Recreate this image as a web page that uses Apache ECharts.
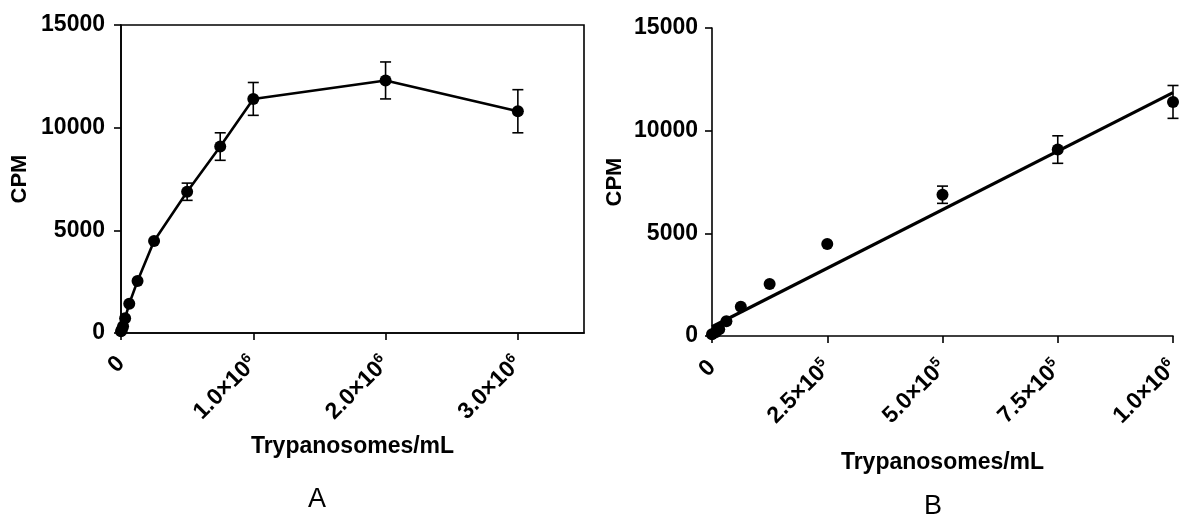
<!DOCTYPE html>
<html>
<head>
<meta charset="utf-8">
<script src="https://cdn.jsdelivr.net/npm/echarts@6/dist/echarts.min.js"></script>
<style>
html,body{margin:0;padding:0;background:#fff;}
#c{width:1200px;height:527px;}
</style>
</head>
<body>
<div id="c"></div>
<script>
// ---- data ----
const conc = [0, 7812.5, 15625, 31250, 62500, 125000, 250000, 500000, 750000, 1000000, 2000000, 3000000];
const cpm  = [80, 180, 330, 720, 1430, 2530, 4480, 6880, 9080, 11400, 12300, 10800];
const sem  = [0, 0, 0, 0, 0, 0, 0, 420, 670, 800, 900, 1050];
const fitX = [0, 1000000];
const fitY = [450, 11850];
const yTicks = [0, 5000, 10000, 15000];
const xTicksA = [0, 1000000, 2000000, 3000000];
const xLabelsA = ['0', '1.0×10|6', '2.0×10|6', '3.0×10|6'];
const xTicksB = [0, 250000, 500000, 750000, 1000000];
const xLabelsB = ['0', '2.5×10|5', '5.0×10|5', '7.5×10|5', '1.0×10|6'];
const xName = 'Trypanosomes/mL';
const yName = 'CPM';
const panelNames = ['A', 'B'];

const FONT = '"Liberation Sans", Arial, sans-serif';
const ptsA = conc.map((x, i) => [x, cpm[i]]);
const errDataA = conc.map((x, i) => [x, cpm[i], sem[i]]);
const limB = 1000000;
const ptsB = ptsA.filter(p => p[0] <= limB);
const errDataB = errDataA.filter(p => p[0] <= limB);
const fitData = fitX.map((x, i) => [x, fitY[i]]);

function fmtLabel(list, ticks) {
  return function (v) {
    const idx = ticks.indexOf(v);
    const s = idx >= 0 ? list[idx] : '';
    if (s.indexOf('|') >= 0) {
      const parts = s.split('|');
      return '{b|' + parts[0] + '}{s|' + parts[1] + '}';
    }
    return '{b|' + s + '}';
  };
}
const rich = {
  b: {fontFamily: FONT, fontWeight: 'bold', fontSize: 23, color: '#000'},
  s: {fontFamily: FONT, fontWeight: 'bold', fontSize: 14, color: '#000', verticalAlign: 'top', padding: [0, 0, 12, 0]}
};

function errRender(params, api) {
  const x = api.value(0), y = api.value(1), e = api.value(2);
  if (!e) return null;
  const t = api.coord([x, y + e]);
  const b = api.coord([x, y - e]);
  const w = 5.5;
  const st = {stroke: '#000', lineWidth: 1.6};
  return {
    type: 'group',
    children: [
      {type: 'line', shape: {x1: t[0], y1: t[1], x2: b[0], y2: b[1]}, style: st},
      {type: 'line', shape: {x1: t[0] - w, y1: t[1], x2: t[0] + w, y2: t[1]}, style: st},
      {type: 'line', shape: {x1: b[0] - w, y1: b[1], x2: b[0] + w, y2: b[1]}, style: st}
    ]
  };
}

const axisLine = {show: true, onZero: false, lineStyle: {color: '#000', width: 1.6}};
const axisTick = {show: true, inside: false, length: 7, lineStyle: {color: '#000', width: 1.6}};

function yAxis(idx, margin, gap) {
  return {
    type: 'value', gridIndex: idx, min: 0, max: 15000, interval: 5000,
    axisLine: axisLine, axisTick: axisTick, splitLine: {show: false},
    axisLabel: {color: '#000', fontFamily: FONT, fontWeight: 'bold', fontSize: 23, margin: margin,
      customValues: yTicks, formatter: v => String(v)},
    name: yName, nameLocation: 'middle', nameGap: gap, nameRotate: 90,
    nameTextStyle: {color: '#000', fontFamily: FONT, fontWeight: 'bold', fontSize: 22}
  };
}

const option = {
  animation: false,
  backgroundColor: '#fff',
  title: [
    {text: panelNames[0], left: 303, top: 481, textStyle: {fontFamily: FONT, fontWeight: 'normal', fontSize: 27, color: '#000'}},
    {text: panelNames[1], left: 919, top: 488, textStyle: {fontFamily: FONT, fontWeight: 'normal', fontSize: 27, color: '#000'}}
  ],
  grid: [
    {left: 121, top: 25, width: 463, height: 308, show: true, borderColor: '#000', borderWidth: 1.6, backgroundColor: 'transparent', containLabel: false},
    {left: 712, top: 28, width: 461, height: 308, containLabel: false}
  ],
  xAxis: [
    {
      type: 'value', gridIndex: 0, min: 0, max: 3500000,
      axisLine: axisLine,
      axisTick: Object.assign({}, axisTick, {customValues: xTicksA}),
      splitLine: {show: false},
      axisLabel: {rotate: 45, margin: 27, customValues: xTicksA, formatter: fmtLabel(xLabelsA, xTicksA), rich: rich},
      name: xName, nameLocation: 'middle', nameGap: 102,
      nameTextStyle: {color: '#000', fontFamily: FONT, fontWeight: 'bold', fontSize: 23}
    },
    {
      type: 'value', gridIndex: 1, min: 0, max: 1000000,
      axisLine: axisLine,
      axisTick: Object.assign({}, axisTick, {customValues: xTicksB}),
      splitLine: {show: false},
      axisLabel: {rotate: 45, margin: 28, customValues: xTicksB, formatter: fmtLabel(xLabelsB, xTicksB), rich: rich},
      name: xName, nameLocation: 'middle', nameGap: 115,
      nameTextStyle: {color: '#000', fontFamily: FONT, fontWeight: 'bold', fontSize: 23}
    }
  ],
  yAxis: [yAxis(0, 16, 90), yAxis(1, 14, 86)],
  series: [
    {
      type: 'custom', xAxisIndex: 0, yAxisIndex: 0, renderItem: errRender,
      data: errDataA, clip: false, z: 3
    },
    {
      type: 'line', xAxisIndex: 0, yAxisIndex: 0, data: ptsA,
      symbol: 'circle', symbolSize: 12, showSymbol: true, clip: false,
      lineStyle: {color: '#000', width: 2.6}, itemStyle: {color: '#000', opacity: 1}, z: 4
    },
    {
      type: 'custom', xAxisIndex: 1, yAxisIndex: 1, renderItem: errRender,
      data: errDataB, clip: false, z: 3
    },
    {
      type: 'line', xAxisIndex: 1, yAxisIndex: 1, data: fitData,
      symbol: 'none', clip: false,
      lineStyle: {color: '#000', width: 3.2}, z: 4
    },
    {
      type: 'scatter', xAxisIndex: 1, yAxisIndex: 1, data: ptsB,
      symbol: 'circle', symbolSize: 12, clip: false,
      itemStyle: {color: '#000', opacity: 1}, z: 5
    }
  ]
};

const chart = echarts.init(document.getElementById('c'), null, {renderer: 'canvas'});
chart.setOption(option);
</script>
</body>
</html>
